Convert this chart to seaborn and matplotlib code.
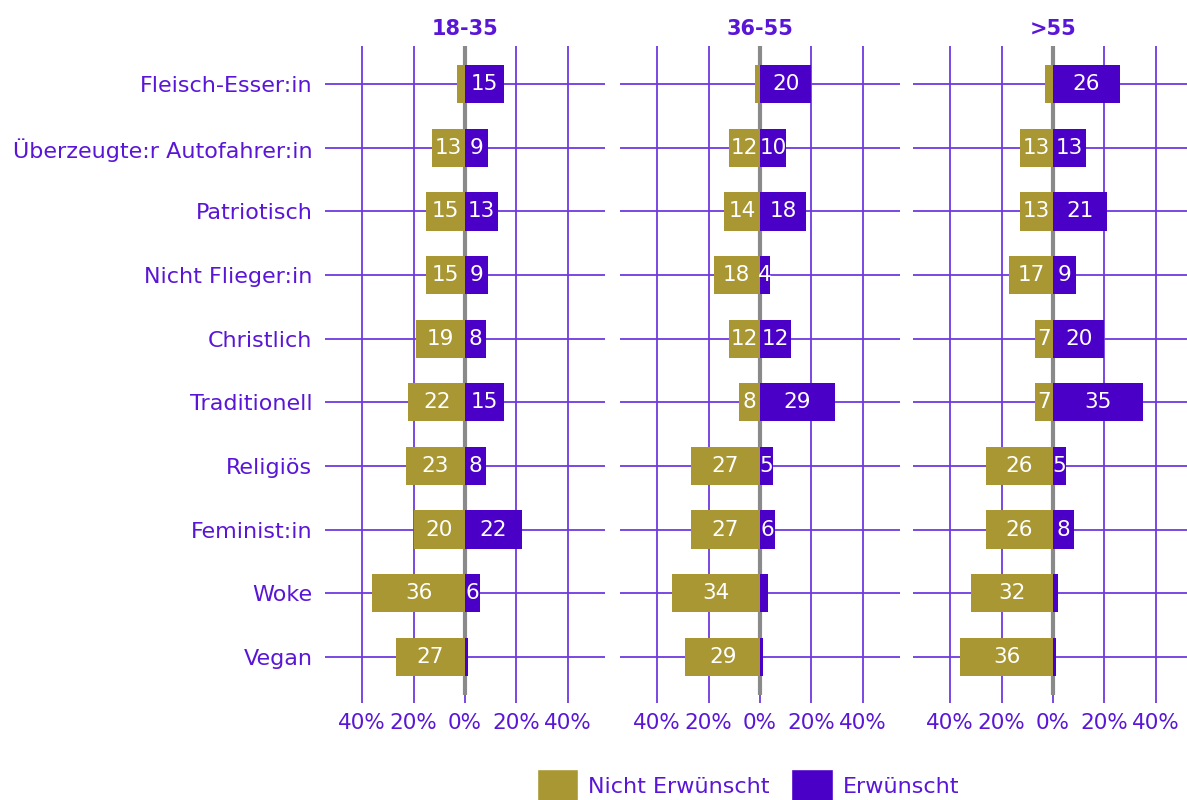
import matplotlib
matplotlib.use("Agg")
import matplotlib.pyplot as plt
from matplotlib.patches import Patch
import seaborn as sns
import pandas as pd

categories = ["Fleisch-Esser:in", "Überzeugte:r Autofahrer:in", "Patriotisch", "Nicht Flieger:in",
              "Christlich", "Traditionell", "Religiös", "Feminist:in", "Woke", "Vegan"]
age_groups = ["18-35", "36-55", ">55"]
nicht_18_35 = [3, 13, 15, 15, 19, 22, 23, 20, 36, 27]
erw_18_35 = [15, 9, 13, 9, 8, 15, 8, 22, 6, 1]
nicht_36_55 = [2, 12, 14, 18, 12, 8, 27, 27, 34, 29]
erw_36_55 = [20, 10, 18, 4, 12, 29, 5, 6, 3, 1]
nicht_55 = [3, 13, 13, 17, 7, 7, 26, 26, 32, 36]
erw_55 = [26, 13, 21, 9, 20, 35, 5, 8, 2, 1]
tick_values = [-40, -20, 0, 20, 40]
tick_labels = ["40%", "20%", "0%", "20%", "40%"]
legend_labels = ["Nicht Erwünscht", "Erwünscht"]

OLIVE = "#a89732"
PURPLE = "#4b00c8"
TEXT = "#5a16d6"
GRID = "#6d3ae0"
ZERO = "#8a8a8a"

sns.set_theme(style="white")
plt.rcParams["font.family"] = ["DejaVu Sans"]

data = {"18-35": (nicht_18_35, erw_18_35), "36-55": (nicht_36_55, erw_36_55), ">55": (nicht_55, erw_55)}

fig = plt.figure(figsize=(11.87, 8.0), dpi=100)
W, H = 1187, 800
lefts = [325, 620, 913]
top_px, bot_px = 46, 695
for i, grp in enumerate(age_groups):
    ne, e = data[grp]
    df = pd.DataFrame({"cat": categories, "neg": [-v for v in ne], "pos": e})
    ax = fig.add_axes([lefts[i] / W, 1 - bot_px / H, 280 / W, (bot_px - top_px) / H])
    ax.set_xlim(-54.4, 54.4)
    for k in range(len(categories)):
        ax.axhline(k, color=GRID, lw=1.3, zorder=0)
    for t in tick_values:
        if t != 0:
            ax.axvline(t, color=GRID, lw=1.3, zorder=0)
    ax.axvline(0, color=ZERO, lw=3, zorder=1)
    sns.barplot(data=df, y="cat", x="neg", color=OLIVE, width=0.6, ax=ax, orient="h",
                saturation=1, zorder=2, linewidth=0)
    sns.barplot(data=df, y="cat", x="pos", color=PURPLE, width=0.6, ax=ax, orient="h",
                saturation=1, zorder=2, linewidth=0)
    ax.set_ylim(len(categories) - 0.4, -0.6)
    c_ne, c_e = ax.containers[0], ax.containers[1]
    ax.bar_label(c_ne, labels=[str(v) if v >= 4 else "" for v in ne], label_type="center",
                 color="white", fontsize=15.5)
    ax.bar_label(c_e, labels=[str(v) if v >= 4 else "" for v in e], label_type="center",
                 color="white", fontsize=15.5)
    for s in ax.spines.values():
        s.set_visible(False)
    ax.set_xlabel("")
    ax.set_ylabel("")
    ax.set_xticks(tick_values)
    ax.set_xticklabels(tick_labels, color=TEXT, fontsize=15.5)
    ax.tick_params(axis="x", length=6, width=1.3, color=GRID, pad=7, bottom=True)
    ax.set_title(grp, color=TEXT, fontsize=15, fontweight="bold", pad=8)
    if i == 0:
        ax.set_yticks(range(len(categories)))
        ax.set_yticklabels(categories, color=TEXT, fontsize=16)
        ax.tick_params(axis="y", length=0, pad=9)
    else:
        ax.set_yticks([])

handles = [Patch(facecolor=OLIVE, label=legend_labels[0]), Patch(facecolor=PURPLE, label=legend_labels[1])]
leg = fig.legend(handles=handles, loc="lower center", bbox_to_anchor=(0.63, -0.027), ncol=2,
                 frameon=False, fontsize=16, handlelength=1.85, handleheight=1.85,
                 handletextpad=0.45, columnspacing=1.0)
for t in leg.get_texts():
    t.set_color(TEXT)

fig.savefig("out.png", dpi=100)
